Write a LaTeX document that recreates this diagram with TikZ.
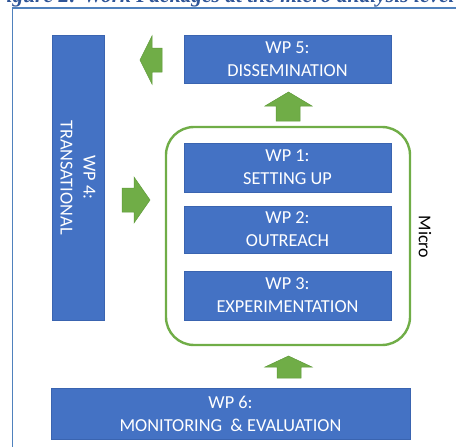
\documentclass[tikz,border=0pt]{standalone}
\usepackage{fontspec}
\setmainfont{Carlito}
\newfontfamily\capfont{Liberation Serif}
\definecolor{wpblue}{HTML}{4472C4}
\definecolor{wpedge}{HTML}{3A64B0}
\definecolor{mgreen}{HTML}{70AD47}
\definecolor{mgreenedge}{HTML}{5E9A38}
\definecolor{framec}{HTML}{4F81BD}
\definecolor{capc}{HTML}{2F5597}
\tikzset{
  wpbox/.style={rectangle, fill=wpblue, draw=wpedge, line width=0.6pt, text=white,
    font=\fontsize{18.3}{23}\selectfont, align=center, inner sep=0pt},
  blockarrow/.style={fill=mgreen, draw=mgreenedge, line width=0.5pt, line join=miter},
  microbox/.style={rectangle, draw=mgreen, line width=2.4pt, rounded corners=28pt, inner sep=0pt},
  framel/.style={draw=framec, line width=1.6pt}
}
\begin{document}
\begin{tikzpicture}[x=1pt, y=-1pt]
\useasboundingbox (0,0) rectangle (456,447);
\clip (0,0) rectangle (456,447);
% caption (cut off at top, as in the reference)
\node[anchor=base west, inner sep=0pt, text=capc, font=\capfont\bfseries\itshape\fontsize{21.5}{24}\selectfont] (cap) at (-8,2.5) {Figure 2: Work Packages at the micro analysis level};
% outer frame
\draw[framel] (12.5,470) -- (12.5,8) -- (470,8);
% WP4
\node[wpbox, rotate=-90, minimum width=285pt, minimum height=52pt] (wp4) at (78,177.5) {WP 4:\\TRANSATIONAL};
% WP5
\node[wpbox, minimum width=207pt, minimum height=48pt] (wp5) at (287.5,59) {WP 5:\\DISSEMINATION};
% micro group
\node[microbox, minimum width=244pt, minimum height=218pt] (micro) at (288,236) {};
\node[wpbox, minimum width=207pt, minimum height=49pt] (wp1) at (287.5,167.5) {WP 1:\\SETTING UP};
\node[wpbox, minimum width=207pt, minimum height=47pt] (wp2) at (287.5,229.5) {WP 2:\\OUTREACH};
\node[wpbox, minimum width=207pt, minimum height=49pt] (wp3) at (287.5,295.5) {WP 3:\\EXPERIMENTATION};
\node[rotate=-90, inner sep=0pt, font=\fontsize{18}{20}\selectfont] (microlbl) at (425,237) {Micro};
% WP6
\node[wpbox, minimum width=359pt, minimum height=51pt] (wp6) at (230.5,413.5) {WP 6:\\MONITORING \ \& EVALUATION};
% block arrows
\draw[blockarrow] (162,48) -- (152,48) -- (152,36) -- (140,60) -- (152,84) -- (152,72) -- (162,72) -- cycle;
\draw[blockarrow] (276,121) -- (276,106) -- (265,106) -- (288.5,92) -- (312,106) -- (300,106) -- (300,121) -- cycle;
\draw[blockarrow] (122,188) -- (134,188) -- (134,177) -- (150,200) -- (134,223) -- (134,212) -- (122,212) -- cycle;
\draw[blockarrow] (277,378) -- (277,367) -- (265,367) -- (288.5,356) -- (312,367) -- (301,367) -- (301,378) -- cycle;
\end{tikzpicture}
\end{document}
